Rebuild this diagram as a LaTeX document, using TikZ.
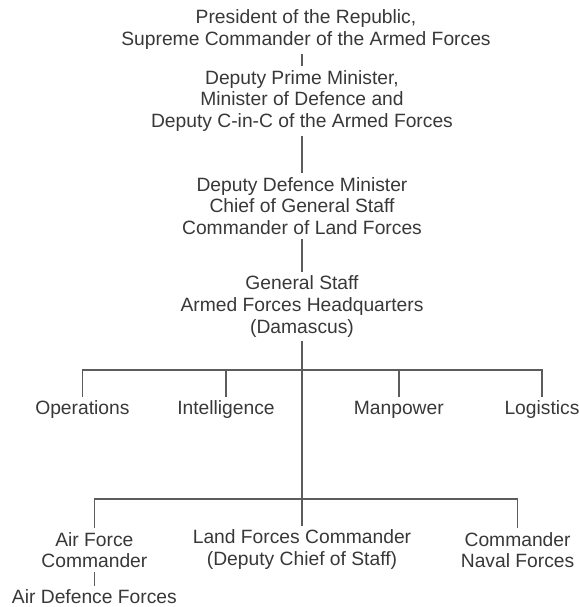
\documentclass[tikz,border=0pt]{standalone}
\usepackage{fontspec}
\setmainfont{Liberation Sans}
\usepackage{xcolor}
\usepackage{tikz}
\usetikzlibrary{positioning,calc}
\definecolor{txtgray}{gray}{0.22}
\definecolor{linegray}{gray}{0.36}

\begin{document}
\begin{tikzpicture}[
    post/.style={align=center, inner sep=2pt, outer sep=1pt, text=txtgray, font=\fontsize{13.7}{15.4}\selectfont},
    ln/.style={draw=linegray, line width=1pt},
]
    \useasboundingbox (-7.55,7.5) rectangle (6.925,-7.675);

    \node[post] (pres) at (0.1, 6.76) {President of the Republic,\\Supreme Commander of the Armed Forces};
    \node[post] (dpm) at (0, 4.975) {Deputy Prime Minister,\\Minister of Defence and\\Deputy C-in-C of the Armed Forces};
    \node[post] (cgs) at (0, 2.35) {Deputy Defence Minister\\Chief of General Staff\\Commander of Land Forces};
    \node[post] (hq) at (0, -0.16) {General Staff\\Armed Forces Headquarters\\(Damascus)};

    \node[post] (ops) at (-5.49, -2.75) {Operations};
    \node[post] (intel) at (-1.9, -2.75) {Intelligence};
    \node[post] (manp) at (2.42, -2.75) {Manpower};
    \node[post] (logi) at (6.0, -2.75) {Logistics};

    \node[post] (afc) at (-5.19, -6.25) {Air Force\\Commander};
    \node[post] (lfc) at (0, -6.24) {Land Forces Commander\\(Deputy Chief of Staff)};
    \node[post] (ncf) at (5.39, -6.25) {Commander\\Naval Forces};
    \node[post] (adf) at (-5.19, -7.425) {Air Defence Forces};

    \coordinate (bar1) at (0, -1.75);
    \coordinate (bar2) at (0, -4.975);

    \draw[ln] (dpm.north) -- (dpm.north |- pres.south);
    \draw[ln] (dpm) -- (cgs);
    \draw[ln] (cgs) -- (hq);
    \draw[ln] (hq) -- (lfc);
    \draw[ln] (ops.north) |- (bar1) -| (logi.north);
    \draw[ln] (intel.north) -- (intel.north |- bar1);
    \draw[ln] (manp.north) -- (manp.north |- bar1);
    \draw[ln] (afc.north) |- (bar2) -| (ncf.north);
    \draw[ln] (afc) -- (adf);
\end{tikzpicture}
\end{document}
